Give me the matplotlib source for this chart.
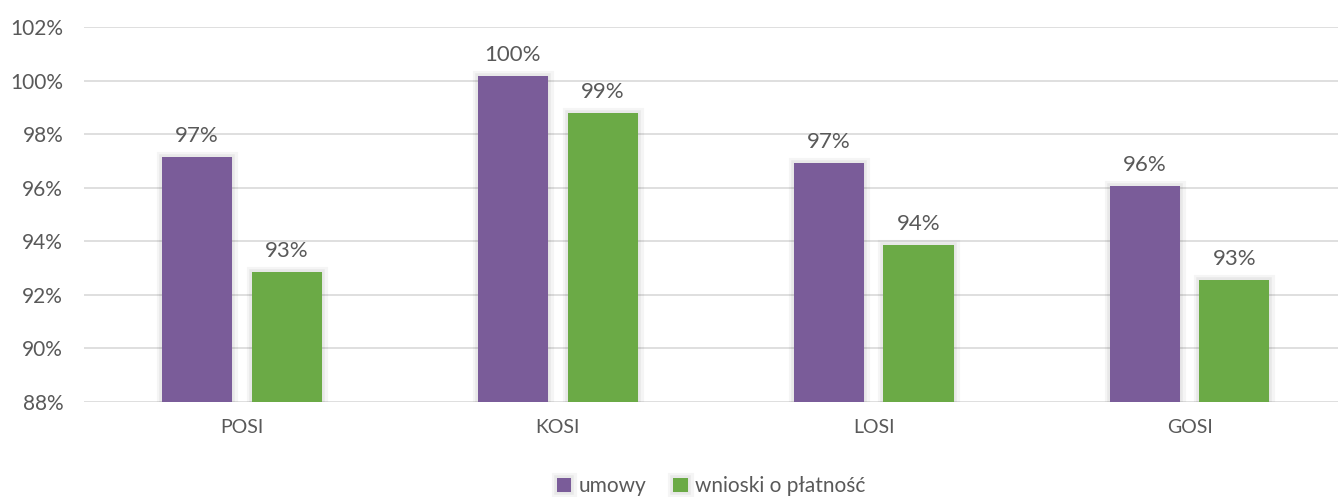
import matplotlib.pyplot as plt
import matplotlib.patheffects as pe
import numpy as np

# data
categories = ['POSI', 'KOSI', 'LOSI', 'GOSI']
umowy = [97.15, 100.17, 96.92, 96.06]
wnioski = [92.85, 98.79, 93.86, 92.55]
labels_umowy = ['97%', '100%', '97%', '96%']
labels_wnioski = ['93%', '99%', '94%', '93%']

purple = '#7A5C99'
green = '#6BAA46'
txt = '#595959'

plt.rcParams['font.family'] = ['Lato', 'DejaVu Sans']

fig = plt.figure(figsize=(13.38, 4.97), dpi=100)
ax = fig.add_axes([84 / 1338, 95 / 497, 1 - 84 / 1338, (402 - 27) / 497])

x = np.arange(len(categories))
w = 0.222
off = 0.142
glow = [pe.Stroke(linewidth=8, foreground='#000000', alpha=0.04),
        pe.Stroke(linewidth=4, foreground='#000000', alpha=0.05),
        pe.Normal()]
b1 = ax.bar(x - off, umowy, w, color=purple, label='umowy', zorder=3, path_effects=glow)
b2 = ax.bar(x + off, wnioski, w, color=green, label='wnioski o płatność', zorder=3, path_effects=glow)

for bars, labs in ((b1, labels_umowy), (b2, labels_wnioski)):
    for b, t in zip(bars, labs):
        ax.annotate(t, (b.get_x() + b.get_width() / 2, b.get_height()),
                    xytext=(0, 8), textcoords='offset points', ha='center', va='bottom',
                    fontsize=16, color=txt, zorder=4)

ax.set_ylim(88, 102)
ax.set_yticks(range(88, 103, 2))
ax.set_yticklabels([f'{v}%' for v in range(88, 103, 2)])
ax.set_xlim(-0.5, 3.47)
ax.set_xticks(x)
ax.set_xticklabels(categories)
ax.tick_params(axis='y', length=0, labelsize=15, colors=txt, pad=15)
ax.tick_params(axis='x', length=0, labelsize=14, colors=txt, pad=12)
ax.grid(axis='y', color='#d9d9d9', linewidth=1.2, zorder=0)
for s in ax.spines.values():
    s.set_visible(False)

ax.legend(loc='center', bbox_to_anchor=(0.5, -0.225), ncol=2, frameon=False,
          fontsize=15, handlelength=0.7, handleheight=0.7, handletextpad=0.35,
          columnspacing=1.3, labelcolor=txt)

fig.savefig('out.png', dpi=100)
